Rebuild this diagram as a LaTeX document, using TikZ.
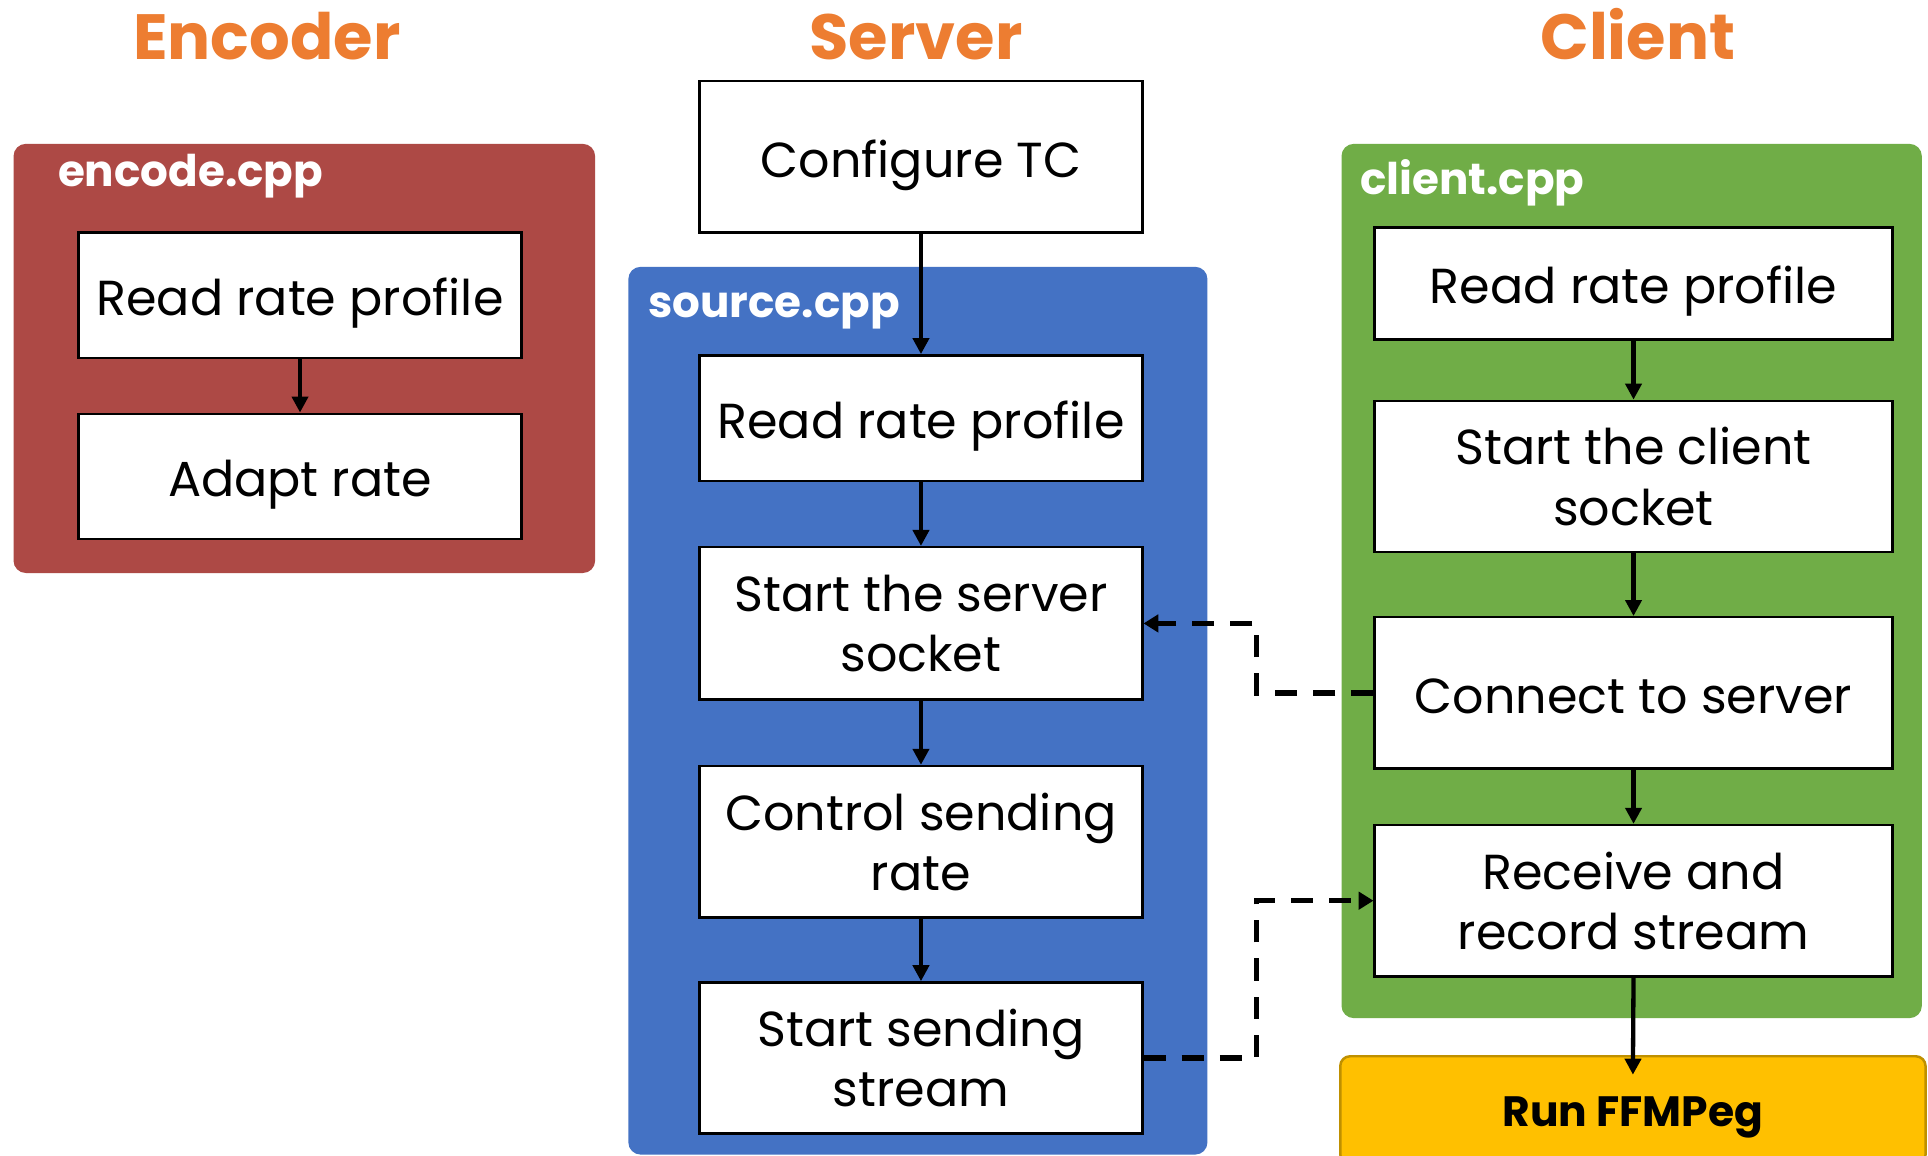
\documentclass[tikz,border=0pt]{standalone}
\usepackage{fontspec}
\setmainfont{Poppins}
\usetikzlibrary{arrows.meta}
\definecolor{encred}{HTML}{AD4945}
\definecolor{srvblue}{HTML}{4472C4}
\definecolor{cligreen}{HTML}{70AD47}
\definecolor{runyellow}{HTML}{FFC000}
\definecolor{runedge}{HTML}{BF9000}
\definecolor{titleorange}{HTML}{ED7D31}
\tikzset{
  panel/.style={rounded corners=10pt, draw=none},
  title/.style={anchor=base, text=titleorange, font=\fontsize{52}{60}\selectfont\bfseries},
  filelabel/.style={anchor=base west, inner sep=0pt, text=white,
    font=\fontsize{35.5}{42}\selectfont\bfseries},
  stepbox/.style={draw=black, fill=white, line width=2pt, align=center,
    font=\fontsize{40}{49}\selectfont, inner sep=0pt},
  oneline/.style={text height=33pt, text depth=0pt},
  flow/.style={line width=3.5pt, -{Triangle[length=13pt,width=13pt]}},
  link/.style={line width=4.5pt, dash pattern=on 18pt off 13pt,
    -{Triangle[length=12pt,width=14pt]}},
}
\begin{document}
\begin{tikzpicture}[x=1pt,y=-1pt]
\useasboundingbox (0,0) rectangle (1568,940);
\fill[white] (0,0) rectangle (1568,940);

% column titles
\node[title] (tenc) at (217,48) {Encoder};
\node[title] (tsrv) at (745,48) {Server};
\node[title] (tcli) at (1332,48) {Client};

% coloured panels
\fill[panel, encred] (11,117) rectangle (484,466);
\fill[panel, srvblue] (511,217) rectangle (982,939);
\fill[panel, cligreen] (1091,117) rectangle (1563,828);

\node[filelabel] (lenc) at (47,152) {encode.cpp};
\node[filelabel] (lsrc) at (527,258) {source.cpp};
\node[filelabel] (lcli) at (1106,158) {client.cpp};

% encoder steps
\node[stepbox, oneline, minimum width=360pt, minimum height=102pt] (e1) at (244,240) {Read rate profile};
\node[stepbox, oneline, minimum width=360pt, minimum height=102pt] (e2) at (244,387.5) {Adapt rate};

% server steps
\node[stepbox, oneline, minimum width=360pt, minimum height=123pt] (s0) at (749,127.5) {Configure TC};
\node[stepbox, oneline, minimum width=360pt, minimum height=102pt] (s1) at (749,340) {Read rate profile};
\node[stepbox, minimum width=360pt, minimum height=124pt] (s2) at (749,507) {Start the server\\socket};
\node[stepbox, minimum width=360pt, minimum height=123pt] (s3) at (749,684.5) {Control sending\\rate};
\node[stepbox, minimum width=360pt, minimum height=123pt] (s4) at (749,860.5) {Start sending\\stream};

% client steps
\node[stepbox, oneline, minimum width=421pt, minimum height=91pt] (c1) at (1328.5,230.5) {Read rate profile};
\node[stepbox, minimum width=421pt, minimum height=123pt] (c2) at (1328.5,387.5) {Start the client\\socket};
\node[stepbox, oneline, minimum width=421pt, minimum height=123pt] (c3) at (1328.5,563.5) {Connect to server};
\node[stepbox, minimum width=421pt, minimum height=123pt] (c4) at (1328.5,732.5) {Receive and\\record stream};

% final step
\node[draw=runedge, fill=runyellow, line width=2pt, rounded corners=8pt,
      minimum width=476pt, minimum height=88pt, inner sep=0pt,
      text height=26pt, text depth=0pt,
      font=\fontsize{34.5}{40}\selectfont\bfseries] (run) at (1328,903) {Run FFMPeg};

% control flow
\draw[flow] (e1) -- (e2);
\draw[flow] (s0) -- (s1);
\draw[flow] (s1) -- (s2);
\draw[flow] (s2) -- (s3);
\draw[flow] (s3) -- (s4);
\draw[flow] (c1) -- (c2);
\draw[flow] (c2) -- (c3);
\draw[flow] (c3) -- (c4);
\draw[flow] (c4.south) -- ([yshift=-16pt]run.north);

% socket links
\coordinate (j1) at (1022,563.5);
\coordinate (j2) at (1022,860.5);
\draw[link] (c3.west) -- (j1) |- (s2.east);
\draw[link] (s4.east) -- (j2) |- (c4.west);
\end{tikzpicture}
\end{document}
